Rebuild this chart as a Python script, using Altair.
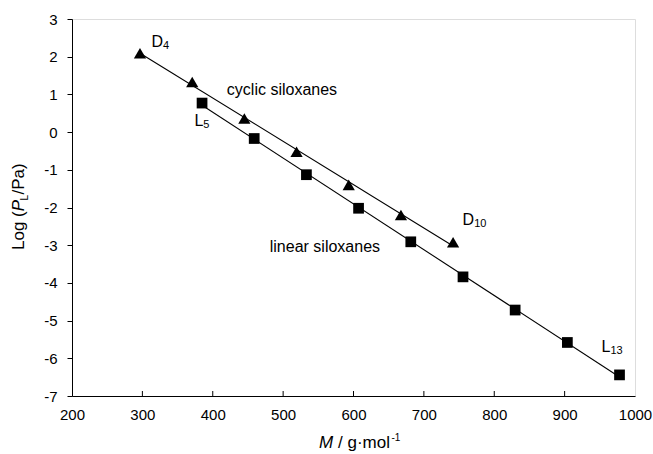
import altair as alt
import pandas as pd

FONT = "Liberation Sans"

# ---- data ----
cyclic_M = [296.6, 370.8, 444.9, 519.1, 593.2, 667.4, 741.5]
cyclic_logP = [2.09, 1.33, 0.36, -0.52, -1.40, -2.20, -2.92]
linear_M = [384.8, 458.9, 533.1, 607.2, 681.4, 755.6, 829.7, 903.9, 978.0]
linear_logP = [0.77, -0.17, -1.13, -2.02, -2.91, -3.84, -4.72, -5.58, -6.44]

x_ticks = [200, 300, 400, 500, 600, 700, 800, 900, 1000]
y_ticks = [-7, -6, -5, -4, -3, -2, -1, 0, 1, 2, 3]

# annotation labels (main letter / subscript) and their anchor in data units
lab_main = ["D", "L", "D", "L"]
lab_sub = ["4", "5", "10", "13"]
lab_M = [313.0, 374.0, 755.0, 952.5]
lab_v = [2.26, 0.16, -2.46, -5.83]
text_labels = ["cyclic siloxanes", "linear siloxanes"]
text_M = [420.0, 481.0]
text_v = [0.98, -3.18]

W, H = 563, 377

df = pd.DataFrame({
    "M": cyclic_M + linear_M,
    "logP": cyclic_logP + linear_logP,
    "series": ["cyclic"] * len(cyclic_M) + ["linear"] * len(linear_M),
})
lab_df = pd.DataFrame({"main": lab_main, "sub": lab_sub, "M": lab_M, "logP": lab_v})
txt_df = pd.DataFrame({"t": text_labels, "M": text_M, "logP": text_v})
tick_df = pd.DataFrame({"M": x_ticks[1:-1]})

xs = alt.Scale(domain=[200, 1000], nice=False, zero=False)
ys = alt.Scale(domain=[-7, 3], nice=False, zero=False)

X = alt.X("M:Q", scale=xs, axis=alt.Axis(
    values=x_ticks, title=None, ticks=False, grid=False, labelFontSize=15,
    labelFont=FONT, labelColor="black", labelPadding=11, domainColor="black",
    domainWidth=1, labelFlush=False, labelOverlap=False,
    labelExpr="'' + datum.value"))
Y = alt.Y("logP:Q", scale=ys, axis=alt.Axis(
    values=y_ticks, title=None, tickSize=5, tickColor="black", grid=False,
    labelFontSize=15, labelFont=FONT, labelColor="black", labelPadding=10,
    domainColor="black", domainWidth=1, labelFlush=False, labelOverlap=False,
    labelExpr="'' + datum.value"))

base = alt.Chart(df)

lines = base.transform_regression("M", "logP", groupby=["series"]).mark_line(
    color="black", strokeWidth=1.1).encode(x=X, y=Y, detail="series:N")

tri = base.transform_filter(alt.datum.series == "cyclic").mark_point(
    shape="triangle-up", filled=True, color="black", size=150, opacity=1).encode(x=X, y=Y)
sq = base.transform_filter(alt.datum.series == "linear").mark_point(
    shape="square", filled=True, color="black", size=115, opacity=1).encode(x=X, y=Y)

ticks_in = alt.Chart(tick_df).mark_rule(color="black", strokeWidth=1).encode(
    x=X, y=alt.value(H), y2=alt.value(H - 5))

lab_main_t = alt.Chart(lab_df).mark_text(
    align="left", baseline="alphabetic", fontSize=16, font=FONT, color="black").encode(
    x=X, y=Y, text="main:N")
lab_sub_D = alt.Chart(lab_df).transform_filter(alt.datum.main == "D").mark_text(
    align="left", baseline="alphabetic", fontSize=11, font=FONT, color="black",
    dx=11.6, dy=2).encode(x=X, y=Y, text="sub:N")
lab_sub_L = alt.Chart(lab_df).transform_filter(alt.datum.main == "L").mark_text(
    align="left", baseline="alphabetic", fontSize=11, font=FONT, color="black",
    dx=8.9, dy=2).encode(x=X, y=Y, text="sub:N")

txt = alt.Chart(txt_df).mark_text(
    align="left", baseline="alphabetic", fontSize=16, font=FONT, color="black").encode(
    x=X, y=Y, text="t:N")

# ---- axis titles built from pieces (italic / sub / superscript) ----
def piece(text, x, y, size=17, style="normal", angle=0):
    kw = dict(align="left", baseline="alphabetic", fontSize=size, font=FONT,
              color="black", fontStyle=style, text=text)
    if angle:
        kw["angle"] = angle
    return alt.Chart(df).transform_filter(alt.datum.M == cyclic_M[0]).mark_text(**kw).encode(
        x=alt.value(x), y=alt.value(y))

ytitle = (
    piece("Log (", -48, 231, angle=270)
    + piece("P", -48, 192.3, style="italic", angle=270)
    + piece("L", -44, 181.5, size=10, angle=270)
    + piece("/Pa)", -48, 175.5, angle=270)
)
xtitle = (
    piece("M", 247, 429, style="italic")
    + piece("/", 266, 429)
    + piece("g·mol", 275.5, 429)
    + piece("-1", 319.5, 422, size=10)
)

chart = alt.layer(
    lines, tri, sq, ticks_in, lab_main_t, lab_sub_D, lab_sub_L, txt, ytitle, xtitle
).properties(
    width=W, height=H,
    autosize=alt.AutoSizeParams(type="none"),
    padding={"left": 72, "top": 19, "right": 18, "bottom": 58},
).configure_view(stroke="black", strokeWidth=1).configure(background="white")

chart.save("out.html", embed_options={"renderer": "svg", "actions": False})
